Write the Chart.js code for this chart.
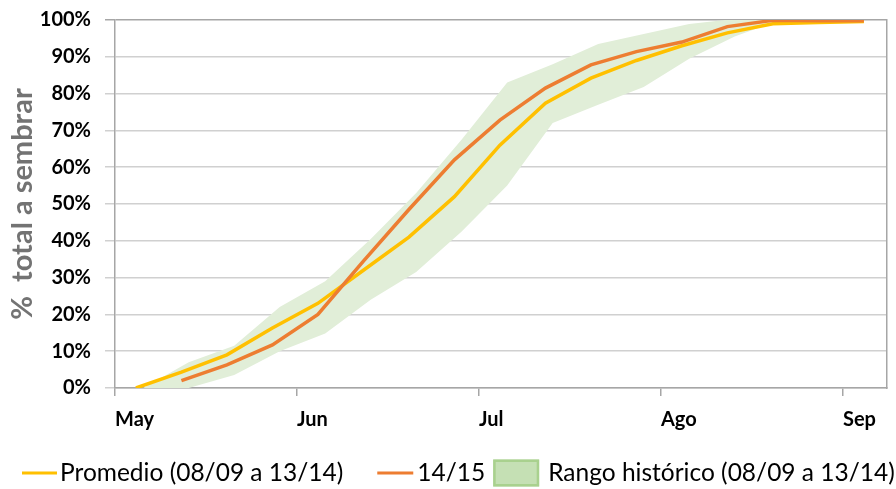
<!DOCTYPE html>
<html lang="es">
<head>
    <meta charset="UTF-8">
    <title>Avance de siembra</title>
    <script src="https://cdn.jsdelivr.net/npm/chart.js"></script>
    <style>
        html, body {
            margin: 0;
            padding: 0;
            background: #fff;
        }
        .chart-container {
            width: 896px;
            height: 489px;
        }
    </style>
</head>
<body>
    <div class="chart-container">
        <canvas id="siembraChart"></canvas>
    </div>
    <script>
        // eje x: meses desde el 1 de mayo (1 = un mes)
        const meses = ['May', 'Jun', 'Jul', 'Ago', 'Sep'];
        const semanas = [0.115, 0.365, 0.615, 0.865, 1.115, 1.365, 1.615, 1.865, 2.115,
                         2.365, 2.615, 2.865, 3.115, 3.365, 3.615, 3.865, 4.115];
        const promedio = [0, 4.3, 9, 16.3, 23, 32, 41, 52, 66, 77.4, 84.2, 89, 93, 96.5, 99, 99.3, 99.6];
        const campana1415 = [null, 2, 6.3, 11.7, 20, 34.5, 48.5, 62, 72.8, 81.5, 87.8, 91.4, 94, 98.2, 99.9, 99.8, 99.8];

        // rango historico (algo desplazado respecto de las lineas)
        const semanasRango = [0.155, 0.405, 0.655, 0.905, 1.155, 1.405, 1.655, 1.905, 2.155,
                              2.405, 2.655, 2.905, 3.155, 3.405, 3.655, 3.905, 4.13];
        const rangoMin = [0, 0, 3.5, 10, 14.8, 24, 31.5, 42.5, 55, 72, 77, 81.8, 89.5, 95.5, 100, 100.3, 100.3];
        const rangoMax = [0, 7, 11.5, 22, 29, 40.5, 53, 67.5, 83, 88, 93.5, 96.2, 98.9, 100.3, 101, 101, 101];

        const FONT = 'Lato';

        function toPoints(xs, ys) {
            return xs.map((x, i) => ({ x: x, y: ys[i] }));
        }

        // leyenda dibujada a mano para imitar el espaciado de Excel
        const leyenda = {
            id: 'leyenda',
            afterDraw(chart) {
                const { ctx } = chart;
                const ds = chart.data.datasets;
                const y = 473;
                ctx.save();
                ctx.font = '24.5px ' + FONT;
                ctx.textBaseline = 'middle';
                ctx.textAlign = 'left';
                let x = 22;

                // Promedio
                ctx.fillStyle = ds[0].borderColor;
                ctx.fillRect(x, y - 1.5, 35, 3);
                x += 38;
                ctx.fillStyle = '#000';
                ctx.fillText(ds[0].label, x, y);
                x += ctx.measureText(ds[0].label).width + 34;

                // 14/15
                ctx.fillStyle = ds[1].borderColor;
                ctx.fillRect(x, y - 1.5, 36, 3);
                x += 40;
                ctx.fillStyle = '#000';
                ctx.fillText(ds[1].label, x, y);
                x += ctx.measureText(ds[1].label).width + 8;

                // Rango historico
                ctx.fillStyle = '#C5E0B4';
                ctx.fillRect(x, y - 13.5, 46, 27);
                ctx.strokeStyle = '#A9D18E';
                ctx.lineWidth = 2.5;
                ctx.strokeRect(x + 1.25, y - 12.25, 43.5, 24.5);
                x += 55;
                ctx.fillStyle = '#000';
                ctx.fillText(ds[3].label, x, y);
                ctx.restore();
            }
        };

        function createChart() {
            const ctx = document.getElementById('siembraChart').getContext('2d');
            new Chart(ctx, {
                type: 'line',
                data: {
                    datasets: [
                        {
                            label: 'Promedio (08/09 a 13/14)',
                            data: toPoints(semanas, promedio),
                            borderColor: '#FFC000',
                            borderWidth: 3.5,
                            fill: false,
                            order: 1
                        },
                        {
                            label: '14/15',
                            data: toPoints(semanas, campana1415),
                            borderColor: '#ED7D31',
                            borderWidth: 3.5,
                            fill: false,
                            order: 0
                        },
                        {
                            label: 'min',
                            data: toPoints(semanasRango, rangoMin),
                            borderColor: 'rgba(0,0,0,0)',
                            borderWidth: 0,
                            fill: false,
                            order: 3
                        },
                        {
                            label: 'Rango histórico (08/09 a 13/14)',
                            data: toPoints(semanasRango, rangoMax),
                            borderColor: 'rgba(0,0,0,0)',
                            backgroundColor: '#E1EED8',
                            borderWidth: 0,
                            fill: '-1',
                            order: 2
                        }
                    ]
                },
                options: {
                    responsive: true,
                    maintainAspectRatio: false,
                    animation: false,
                    layout: {
                        padding: { top: 20, right: 9, left: 0, bottom: 0 }
                    },
                    elements: {
                        point: { radius: 0, hoverRadius: 0 },
                        line: { tension: 0 }
                    },
                    scales: {
                        x: {
                            type: 'linear',
                            min: 0,
                            max: 4.242,
                            afterBuildTicks: scale => {
                                scale.ticks = meses.map((m, i) => ({ value: i }));
                            },
                            ticks: {
                                callback: value => meses[value],
                                align: 'start',
                                maxRotation: 0,
                                padding: 12,
                                color: '#000',
                                font: { family: FONT, size: 20, weight: 'bold' }
                            },
                            grid: {
                                drawOnChartArea: false,
                                drawTicks: true,
                                tickLength: 8,
                                color: '#a6a6a6',
                                lineWidth: 1.5
                            },
                            border: { color: '#a6a6a6', width: 1.5 },
                            afterFit: scale => { scale.height = 101; }
                        },
                        y: {
                            min: 0,
                            max: 100,
                            ticks: {
                                stepSize: 10,
                                callback: value => value + '%',
                                padding: 14,
                                color: '#000',
                                font: { family: FONT, size: 20, weight: 'bold' }
                            },
                            grid: {
                                color: c => c.tick && c.tick.value === 100 ? '#a6a6a6' : '#d0d0d0',
                                lineWidth: 1.5,
                                tickLength: 10
                            },
                            border: { color: '#a6a6a6', width: 1.5 },
                            title: {
                                display: true,
                                text: '%  total a sembrar',
                                color: '#737373',
                                font: { family: FONT, size: 29, weight: 'bold' },
                                padding: { top: 5, bottom: 0 }
                            },
                            afterFit: scale => {
                                scale.width = 115;
                                scale.paddingTop = 0;
                                scale.paddingBottom = 0;
                            }
                        },
                        y2: {
                            position: 'right',
                            grid: { display: false },
                            ticks: { display: false },
                            border: { color: '#a6a6a6', width: 1.5 },
                            afterFit: scale => { scale.width = 0; }
                        }
                    },
                    plugins: {
                        legend: { display: false },
                        tooltip: { enabled: false }
                    }
                },
                plugins: [leyenda]
            });
        }

        createChart();
    </script>
</body>
</html>
